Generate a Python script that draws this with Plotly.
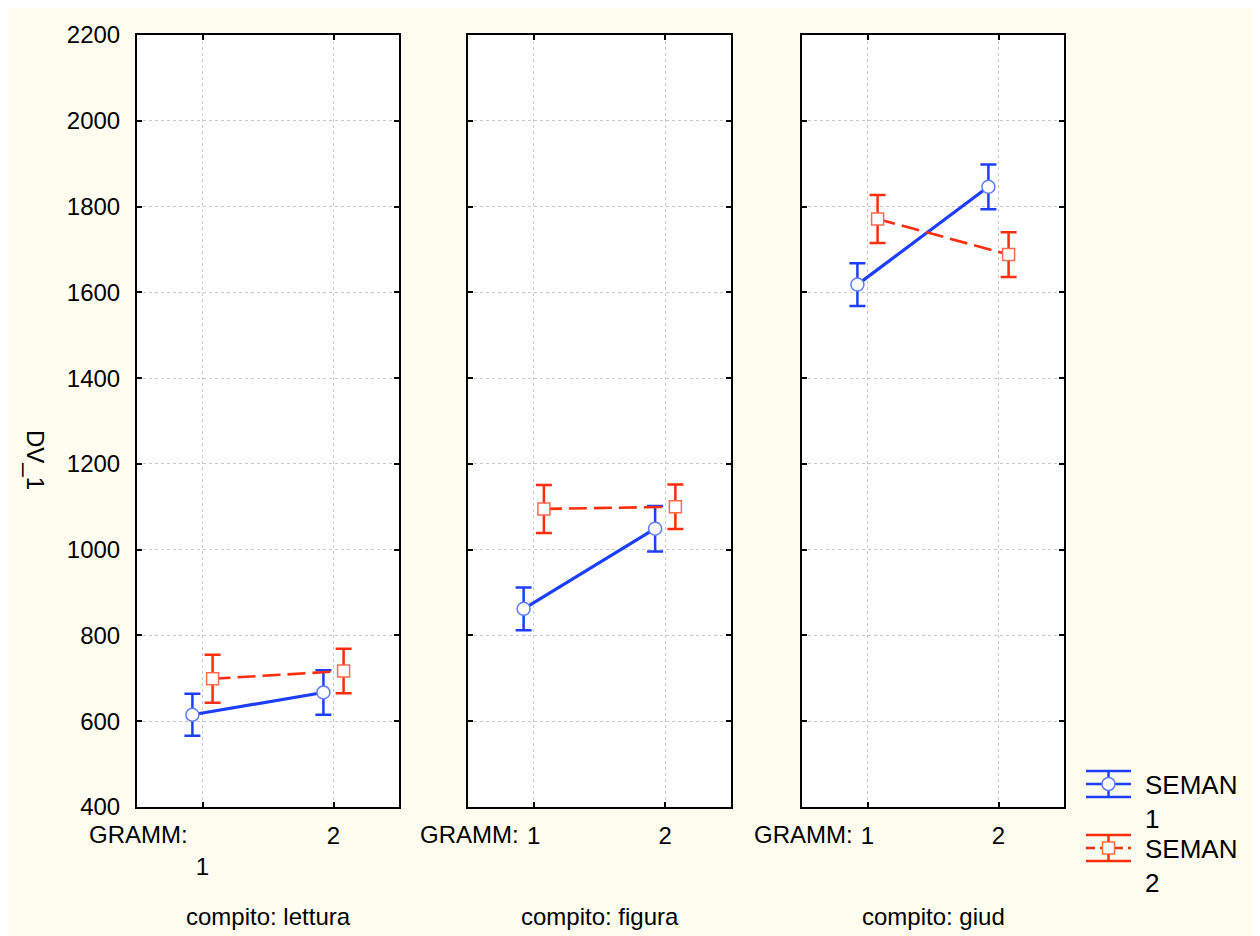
import plotly.graph_objects as go

# ---------------- data ----------------
categories = [1, 2]
tick_labels_first = [" <br>1", "2"]
tick_labels_other = ["1", "2"]
tasks = ["lettura", "figura", "giud"]
seman1_means = [[615, 667], [862, 1049], [1618, 1846]]
seman1_se = [[49, 52], [50, 53], [50, 52]]
seman2_means = [[699, 717], [1095, 1100], [1771, 1688]]
seman2_se = [[56, 52], [56, 52], [56, 52]]
series_names = ["SEMAN<br>1", "SEMAN<br>2"]
y_ticks = [400, 600, 800, 1000, 1200, 1400, 1600, 1800, 2000, 2200]

# ---------------- style ----------------
W, H = 1252, 928
CREAM = "#fffdf0"
BLUE = "#1c3fff"
BLUE_M = "#5c7cff"
RED = "#ff2d0a"
RED_M = "#ff6a4d"
FONT = "Arial, Liberation Sans, sans-serif"
FS = 24
OFF = 0.077
panel_px = [(129, 391), (460, 723), (794, 1056)]
y_top_px, y_bot_px = 27, 799


def px_x(p):
    return p / W


def px_y(p):
    return 1 - p / H


fig = go.Figure()

for i, task in enumerate(tasks):
    ax = "" if i == 0 else str(i + 1)
    xr, yr = "x" + ax, "y" + ax
    fig.add_trace(go.Scatter(
        x=[c - OFF for c in categories], y=seman1_means[i],
        xaxis=xr, yaxis=yr, mode="lines+markers", name=series_names[0],
        showlegend=False,
        line=dict(color=BLUE, width=3.2),
        marker=dict(symbol="circle", size=13, color="white",
                    line=dict(color=BLUE_M, width=1.5)),
        error_y=dict(type="data", array=seman1_se[i], color=BLUE,
                     thickness=2.5, width=8),
    ))
    fig.add_trace(go.Scatter(
        x=[c + OFF for c in categories], y=seman2_means[i],
        xaxis=xr, yaxis=yr, mode="lines+markers", name=series_names[1],
        showlegend=False,
        line=dict(color=RED, width=2.6, dash="18px,7px"),
        marker=dict(symbol="square", size=12, color="white",
                    line=dict(color=RED_M, width=1.5)),
        error_y=dict(type="data", array=seman2_se[i], color=RED,
                     thickness=2.5, width=8),
    ))
    x0, x1 = panel_px[i]
    common = dict(showline=True, linecolor="black", linewidth=2, mirror="ticks",
                  ticks="inside", ticklen=5, tickwidth=2, tickcolor="black",
                  showgrid=True, gridcolor="#c8c8c8", griddash="dot", gridwidth=1,
                  zeroline=False, automargin=False,
                  tickfont=dict(family=FONT, size=FS, color="black"))
    fig.update_layout(**{
        "xaxis" + ax: dict(domain=[px_x(x0), px_x(x1)], range=[0.5, 2.5],
                           tickvals=categories,
                           ticktext=tick_labels_first if i == 0 else tick_labels_other,
                           anchor=yr, ticklabelstandoff=6, **common),
        "yaxis" + ax: dict(domain=[px_y(y_bot_px), px_y(y_top_px)], range=[400, 2200],
                           tickvals=y_ticks, showticklabels=(i == 0), anchor=xr,
                           ticklabelstandoff=10, **common),
    })
    # "GRAMM:" prefix to the left of the first tick label
    fig.add_annotation(x=categories[0], y=400, xref=xr, yref=yr, text="GRAMM:",
                       showarrow=False, xanchor="right", yanchor="middle",
                       xshift=-13, yshift=-27,
                       font=dict(family=FONT, size=FS, color="black"))
    fig.add_annotation(x=0.5, y=px_y(908), xref=xr + " domain", yref="paper",
                       text="compito: " + task, showarrow=False,
                       xanchor="center", yanchor="middle",
                       font=dict(family=FONT, size=FS, color="black"))

fig.add_annotation(x=px_x(27), y=px_y(452), xref="paper", yref="paper", text="DV_1",
                   textangle=90, showarrow=False, xanchor="center", yanchor="middle",
                   font=dict(family=FONT, size=FS, color="black"))

# ---------------- legend (drawn) ----------------
shapes = []
lx0, lx1 = 1078, 1123
lxc = (lx0 + lx1) / 2
for k, (cy, col, mcol, sym) in enumerate([(776, BLUE, BLUE_M, "circle"),
                                          (840, RED, RED_M, "square")]):
    for dy in (-13, 13):
        shapes.append(dict(type="line", xref="paper", yref="paper",
                           x0=px_x(lx0), x1=px_x(lx1), y0=px_y(cy + dy), y1=px_y(cy + dy),
                           line=dict(color=col, width=2.5)))
    shapes.append(dict(type="line", xref="paper", yref="paper",
                       x0=px_x(lxc), x1=px_x(lxc), y0=px_y(cy - 13), y1=px_y(cy + 13),
                       line=dict(color=col, width=2.5)))
    shapes.append(dict(type="line", xref="paper", yref="paper",
                       x0=px_x(lx0), x1=px_x(lx1), y0=px_y(cy), y1=px_y(cy),
                       line=dict(color=col, width=2.5,
                                 dash="solid" if k == 0 else "9px,5px")))
    r = 6.5 if sym == "circle" else 6
    shapes.append(dict(type="circle" if sym == "circle" else "rect",
                       xref="paper", yref="paper",
                       x0=px_x(lxc - r), x1=px_x(lxc + r), y0=px_y(cy - r), y1=px_y(cy + r),
                       fillcolor="white", line=dict(color=mcol, width=1.5)))
    fig.add_annotation(x=px_x(1135), y=px_y(cy - 16), xref="paper", yref="paper",
                       text=series_names[k], showarrow=False, xanchor="left",
                       yanchor="top", align="left",
                       font=dict(family=FONT, size=26, color="black"))

fig.update_layout(
    width=W, height=H, margin=dict(l=0, r=0, t=0, b=0, autoexpand=False),
    paper_bgcolor=CREAM, plot_bgcolor="white", showlegend=False,
    shapes=shapes, font=dict(family=FONT, color="black"),
)

fig.write_html("out.html")
